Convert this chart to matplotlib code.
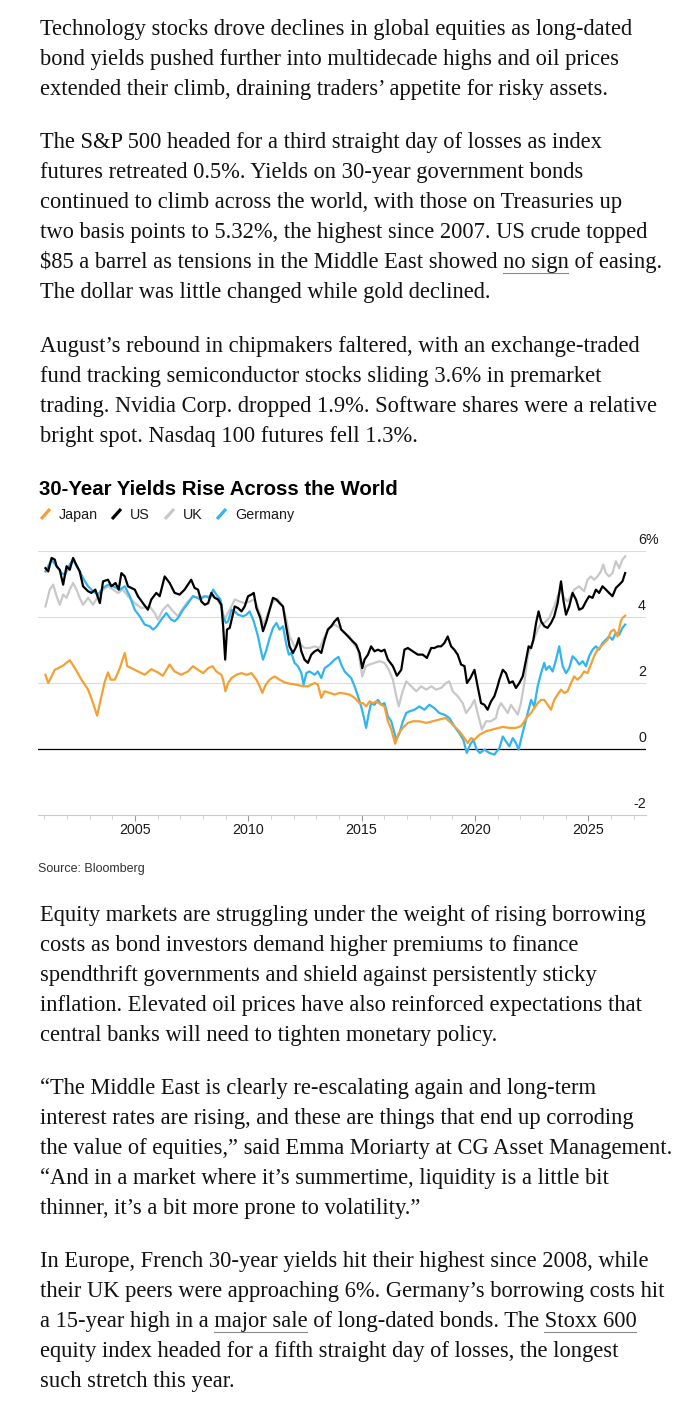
import matplotlib.pyplot as plt
import matplotlib.transforms as mtransforms
from matplotlib.lines import Line2D

# ---- chart data (decimal year, yield %) ----
japan_year = [
    2001.05, 2001.17, 2001.32, 2001.46, 2001.61, 2001.83, 2002.12, 2002.35, 2002.64, 2002.93,
    2003.15, 2003.33, 2003.52, 2003.67, 2003.81, 2003.93, 2004.11, 2004.33, 2004.55, 2004.66,
    2004.84, 2005.13, 2005.43, 2005.72, 2006.01, 2006.23, 2006.53, 2006.75, 2007.04, 2007.34,
    2007.56, 2007.78, 2008.01, 2008.23, 2008.42, 2008.59, 2008.81, 2008.89, 2008.99, 2009.11,
    2009.26, 2009.48, 2009.70, 2009.92, 2010.14, 2010.36, 2010.50, 2010.62, 2010.77, 2010.94,
    2011.16, 2011.38, 2011.60, 2011.82, 2012.12, 2012.41, 2012.63, 2012.93, 2013.07, 2013.22,
    2013.37, 2013.59, 2013.81, 2014.03, 2014.25, 2014.47, 2014.69, 2014.91, 2015.06, 2015.20,
    2015.35, 2015.50, 2015.65, 2015.87, 2016.01, 2016.16, 2016.31, 2016.48, 2016.64, 2016.82,
    2017.04, 2017.26, 2017.55, 2017.85, 2018.14, 2018.43, 2018.70, 2018.87, 2019.09, 2019.31,
    2019.54, 2019.68, 2019.83, 2019.98, 2020.20, 2020.49, 2020.78, 2021.08, 2021.23, 2021.52,
    2021.81, 2022.03, 2022.18, 2022.33, 2022.48, 2022.62, 2022.77, 2022.92, 2023.06, 2023.21,
    2023.36, 2023.50, 2023.65, 2023.80, 2023.94, 2024.09, 2024.24, 2024.38, 2024.53, 2024.68,
    2024.82, 2024.97, 2025.12, 2025.26, 2025.41, 2025.56, 2025.70, 2025.85, 2026.00, 2026.14,
    2026.29, 2026.44, 2026.51, 2026.63,
]
japan_yield = [
    2.25, 2.00, 2.20, 2.40, 2.45, 2.53, 2.69, 2.45, 2.10, 1.80,
    1.39, 1.01, 1.60, 2.05, 2.32, 2.10, 2.10, 2.45, 2.91, 2.51,
    2.45, 2.35, 2.25, 2.42, 2.32, 2.22, 2.56, 2.35, 2.25, 2.35,
    2.51, 2.40, 2.30, 2.45, 2.51, 2.35, 2.25, 2.10, 1.75, 2.00,
    2.15, 2.25, 2.30, 2.25, 2.30, 2.10, 1.90, 1.70, 1.95, 2.10,
    2.20, 2.10, 2.02, 1.98, 1.95, 1.90, 1.90, 2.00, 1.95, 1.55,
    1.75, 1.70, 1.65, 1.70, 1.68, 1.65, 1.55, 1.39, 1.39, 1.29,
    1.44, 1.39, 1.44, 1.34, 1.29, 0.84, 0.59, 0.16, 0.48, 0.64,
    0.79, 0.84, 0.84, 0.79, 0.84, 0.89, 0.94, 0.84, 0.69, 0.54,
    0.33, 0.18, 0.33, 0.28, 0.43, 0.54, 0.59, 0.64, 0.67, 0.64,
    0.64, 0.69, 0.84, 0.99, 1.09, 1.24, 1.39, 1.49, 1.49, 1.34,
    1.19, 1.49, 1.65, 1.80, 1.70, 1.75, 2.00, 2.20, 2.10, 2.20,
    2.35, 2.30, 2.56, 2.81, 3.01, 3.11, 3.21, 3.31, 3.56, 3.62,
    3.41, 3.87, 3.97, 4.04,
]

us_year = [
    2001.05, 2001.17, 2001.32, 2001.46, 2001.54, 2001.68, 2001.83, 2001.98, 2002.12, 2002.27,
    2002.37, 2002.56, 2002.71, 2002.93, 2003.08, 2003.25, 2003.45, 2003.59, 2003.81, 2003.96,
    2004.14, 2004.28, 2004.40, 2004.55, 2004.69, 2004.99, 2005.13, 2005.35, 2005.57, 2005.72,
    2005.94, 2006.09, 2006.31, 2006.53, 2006.75, 2006.97, 2007.19, 2007.48, 2007.63, 2007.78,
    2007.93, 2008.08, 2008.23, 2008.37, 2008.52, 2008.67, 2008.81, 2008.89, 2008.98, 2009.06,
    2009.18, 2009.30, 2009.40, 2009.55, 2009.70, 2009.84, 2009.99, 2010.14, 2010.24, 2010.36,
    2010.53, 2010.65, 2010.80, 2010.94, 2011.09, 2011.24, 2011.38, 2011.53, 2011.68, 2011.82,
    2011.97, 2012.12, 2012.23, 2012.34, 2012.48, 2012.63, 2012.78, 2012.93, 2013.07, 2013.22,
    2013.37, 2013.51, 2013.66, 2013.81, 2013.95, 2014.10, 2014.25, 2014.47,
    2014.54, 2014.76, 2014.91, 2015.03, 2015.13, 2015.28, 2015.42, 2015.57, 2015.72, 2015.87,
    2016.01, 2016.16, 2016.38, 2016.56, 2016.75, 2016.89, 2017.04, 2017.26, 2017.48, 2017.70,
    2017.88, 2018.07, 2018.21, 2018.36, 2018.51, 2018.65, 2018.80, 2018.95, 2019.09, 2019.24,
    2019.39, 2019.54, 2019.65, 2019.80, 2019.98, 2020.12, 2020.27, 2020.42, 2020.56, 2020.71,
    2020.86, 2021.00, 2021.08,
    2021.23, 2021.37, 2021.52, 2021.67, 2021.81, 2021.96, 2022.11, 2022.26, 2022.37, 2022.48,
    2022.58, 2022.70, 2022.81, 2022.92, 2023.06, 2023.21, 2023.36, 2023.50, 2023.65, 2023.80,
    2023.90, 2024.02, 2024.16, 2024.31, 2024.46, 2024.60, 2024.75, 2024.90, 2025.04, 2025.19,
    2025.34, 2025.48, 2025.63, 2025.78, 2025.92, 2026.07, 2026.22, 2026.37, 2026.51, 2026.63,
]
us_yield = [
    5.48, 5.38, 5.79, 5.74, 5.54, 5.43, 4.98, 5.54, 5.43, 5.79,
    5.64, 5.38, 4.93, 4.78, 4.73, 4.83, 4.42, 5.08, 5.13, 4.93,
    5.03, 4.83, 5.33, 5.23, 4.93, 4.83, 4.63, 4.42, 4.22, 4.53,
    4.73, 4.63, 5.23, 5.03, 4.73, 4.68, 4.83, 5.13, 4.88, 4.83,
    4.47, 4.37, 4.42, 4.73, 4.58, 4.53, 4.37, 3.72, 2.71, 3.62,
    3.67, 4.02, 4.32, 4.27, 4.17, 4.32, 4.63, 4.68, 4.73, 4.27,
    3.97, 3.57, 3.87, 4.22, 4.58, 4.53, 4.42, 4.32, 3.67, 3.11,
    2.91, 3.11, 3.36, 2.96, 2.71, 2.61, 2.86, 2.96, 3.01, 2.91,
    3.31, 3.62, 3.72, 3.87, 3.97, 3.62, 3.52, 3.36,
    3.31, 3.16, 2.91, 2.45, 2.71, 2.86, 3.11, 2.96, 3.01, 2.96,
    3.01, 2.71, 2.51, 2.22, 2.40, 3.01, 3.06, 2.96, 2.86, 2.86,
    2.76, 3.06, 3.06, 3.11, 3.11, 3.21, 3.41, 3.11, 3.01, 2.86,
    2.56, 2.51, 2.00, 2.15, 2.40, 1.90, 1.39, 1.34, 1.19, 1.44,
    1.60, 1.90, 2.10,
    2.40, 2.30, 2.00, 2.05, 1.85, 2.00, 2.20, 2.71, 3.11, 3.06,
    3.31, 3.82, 4.17, 3.87, 3.72, 3.67, 3.82, 4.02, 4.42, 5.08,
    4.53, 4.07, 4.32, 4.73, 4.53, 4.22, 4.27, 4.47, 4.63, 4.58,
    4.83, 4.73, 4.93, 4.83, 4.73, 4.63, 4.88, 4.98, 5.08, 5.33,
]

uk_year = [
    2001.05, 2001.24, 2001.39, 2001.54, 2001.68, 2001.83, 2001.98, 2002.12, 2002.27, 2002.42,
    2002.56, 2002.71, 2002.93, 2003.15, 2003.37, 2003.59, 2003.81, 2004.03, 2004.25, 2004.47,
    2004.69, 2004.99, 2005.28, 2005.65, 2005.87, 2006.01, 2006.23, 2006.45, 2006.68, 2006.90,
    2007.12, 2007.34, 2007.56, 2007.78,
    2008.01, 2008.30, 2008.59, 2008.81, 2008.96, 2009.06, 2009.26, 2009.40, 2009.62, 2009.84,
    2010.06, 2010.28, 2010.50, 2010.68, 2010.87, 2011.09, 2011.31, 2011.53, 2011.68, 2011.82,
    2012.04, 2012.26, 2012.48, 2012.70, 2012.93, 2013.15, 2013.37, 2013.59, 2013.81, 2014.03,
    2014.25, 2014.47,
    2014.62, 2014.84, 2015.03, 2015.18, 2015.35, 2015.57, 2015.79, 2016.01, 2016.20, 2016.38,
    2016.53, 2016.64, 2016.79, 2016.97, 2017.19, 2017.41, 2017.63, 2017.85, 2018.07, 2018.29,
    2018.51, 2018.73, 2018.87, 2019.02, 2019.24, 2019.46, 2019.61, 2019.83, 2019.98, 2020.12,
    2020.31, 2020.49, 2020.71, 2020.93,
    2021.01, 2021.15, 2021.30, 2021.45, 2021.59, 2021.74, 2021.89, 2022.03, 2022.18, 2022.33,
    2022.48, 2022.62, 2022.77, 2022.92, 2023.06, 2023.28, 2023.50, 2023.65, 2023.80, 2023.94,
    2024.09, 2024.24, 2024.38, 2024.60, 2024.82, 2024.97, 2025.12, 2025.26, 2025.41, 2025.56,
    2025.66, 2025.78, 2025.92, 2026.07, 2026.22, 2026.37, 2026.51, 2026.63,
]
uk_yield = [
    4.32, 4.83, 4.98, 4.63, 4.37, 4.68, 4.58, 4.83, 5.03, 4.83,
    4.58, 4.37, 4.58, 4.37, 4.63, 4.83, 4.93, 4.83, 4.73, 4.83,
    4.63, 4.42, 4.27, 4.32, 4.12, 3.92, 4.22, 4.37, 4.17, 4.02,
    4.27, 4.47, 4.63, 4.58,
    4.63, 4.63, 4.58, 4.32, 3.92, 4.07, 4.32, 4.53, 4.47, 4.42,
    4.47, 4.53, 4.12, 3.77, 4.12, 4.47, 4.53, 4.32, 3.92, 3.41,
    3.11, 3.21, 3.06, 3.06, 3.11, 3.06, 3.41, 3.67, 3.77, 3.67,
    3.52, 3.41,
    3.21, 3.01, 2.20, 2.51, 2.56, 2.61, 2.66, 2.61, 2.40, 2.10,
    1.60, 1.29, 1.70, 2.05, 1.90, 1.75, 1.90, 1.80, 1.90, 1.80,
    1.85, 2.00, 2.05, 1.75, 1.60, 1.39, 1.09, 1.29, 1.49, 1.09,
    0.59, 0.84, 0.84, 0.94,
    1.19, 1.39, 1.24, 1.09, 1.34, 1.19, 1.04, 1.39, 2.00, 2.81,
    3.11, 3.36, 3.62, 3.82, 3.82, 3.97, 4.32, 4.63, 4.83, 4.58,
    4.47, 4.63, 4.83, 4.93, 4.78, 5.13, 5.23, 5.13, 5.23, 5.38,
    5.59, 5.33, 5.23, 5.33, 5.69, 5.48, 5.74, 5.84,
]

germany_year = [
    2001.05, 2001.32, 2001.54, 2001.76, 2001.91, 2002.12, 2002.27, 2002.42, 2002.56, 2002.79,
    2002.93, 2003.15, 2003.37, 2003.59, 2003.81, 2004.03, 2004.33, 2004.55, 2004.77, 2004.99,
    2005.21, 2005.43, 2005.65, 2005.79, 2005.94, 2006.16, 2006.38, 2006.60, 2006.75, 2006.90,
    2007.12, 2007.34, 2007.56, 2007.78,
    2007.86, 2008.08, 2008.30, 2008.45, 2008.59, 2008.77, 2008.89, 2009.01, 2009.11, 2009.26,
    2009.40, 2009.55, 2009.77, 2009.92, 2010.06, 2010.24, 2010.43, 2010.58, 2010.65, 2010.80,
    2010.94, 2011.09, 2011.24, 2011.38, 2011.53, 2011.68, 2011.79, 2011.90, 2012.04, 2012.19,
    2012.34, 2012.44, 2012.56, 2012.70, 2012.93, 2013.07, 2013.22, 2013.37, 2013.59, 2013.81,
    2013.98, 2014.10, 2014.25, 2014.47,
    2014.54, 2014.69, 2014.84, 2014.98, 2015.09, 2015.20, 2015.32, 2015.42, 2015.57, 2015.72,
    2015.87, 2016.01, 2016.16, 2016.31, 2016.41, 2016.53, 2016.67, 2016.82, 2016.97, 2017.11,
    2017.33, 2017.55, 2017.77, 2017.99, 2018.21, 2018.43, 2018.65, 2018.87, 2019.09, 2019.31,
    2019.49, 2019.64, 2019.79, 2019.93, 2020.08, 2020.22, 2020.42, 2020.64, 2020.86, 2021.08,
    2021.23, 2021.37, 2021.52, 2021.67, 2021.81, 2021.93, 2022.03, 2022.18, 2022.33, 2022.48,
    2022.62, 2022.77, 2022.92, 2023.06, 2023.14, 2023.28, 2023.43, 2023.58, 2023.72, 2023.87,
    2024.02, 2024.16, 2024.31, 2024.46, 2024.60, 2024.75, 2024.90, 2025.04, 2025.19, 2025.34,
    2025.48, 2025.63, 2025.78, 2025.92, 2026.07, 2026.22, 2026.37, 2026.51, 2026.63,
]
germany_yield = [
    5.38, 5.74, 5.54, 5.33, 5.28, 5.59, 5.74, 5.54, 5.38, 5.08,
    4.93, 4.78, 4.68, 4.88, 4.98, 4.93, 4.83, 4.93, 4.63, 4.22,
    4.02, 3.77, 3.72, 3.62, 3.70, 3.92, 4.12, 3.92, 3.87, 3.97,
    4.22, 4.42, 4.63, 4.58,
    4.53, 4.63, 4.58, 4.83, 4.68, 4.53, 4.02, 3.82, 3.87, 4.22,
    4.17, 4.07, 4.02, 4.07, 4.17, 3.87, 3.41, 2.91, 2.71, 3.01,
    3.36, 3.67, 3.82, 3.62, 3.72, 3.16, 2.86, 2.91, 2.61, 2.51,
    2.30, 1.95, 2.30, 2.35, 2.25, 2.35, 2.15, 2.45, 2.56, 2.71,
    2.79, 2.56, 2.35, 2.20,
    2.15, 1.90, 1.60, 1.29, 0.99, 0.64, 1.09, 1.39, 1.34, 1.49,
    1.34, 1.39, 0.99, 0.84, 0.59, 0.28, 0.48, 0.84, 1.09, 1.14,
    1.19, 1.29, 1.19, 1.34, 1.24, 1.09, 1.04, 0.94, 0.69, 0.48,
    0.28, -0.12, 0.13, 0.28, -0.02, -0.12, -0.02, -0.12, -0.17, 0.03,
    0.38, 0.23, 0.08, 0.33, 0.18, -0.02, 0.28, 0.69, 1.09, 1.49,
    1.29, 1.90, 2.30, 2.61, 2.40, 2.51, 2.35, 2.71, 3.11, 2.51,
    2.30, 2.45, 2.81, 2.71, 2.56, 2.66, 2.51, 2.81, 3.01, 3.11,
    3.01, 3.21, 3.31, 3.41, 3.31, 3.52, 3.46, 3.67, 3.77,
]

year_ticks = [2005, 2010, 2015, 2020, 2025]
yield_ticks = [-2, 0, 2, 4, 6]

series_names = ["Japan", "US", "UK", "Germany"]
series_colors = ["#f5a033", "#000000", "#c8c8c8", "#32b4ee"]

# ---- article text ----
paragraphs = [
    ["Technology stocks drove declines in global equities as long-dated",
     "bond yields pushed further into multidecade highs and oil prices",
     "extended their climb, draining traders\u2019 appetite for risky assets."],
    ["The S&P 500 headed for a third straight day of losses as index",
     "futures retreated 0.5%. Yields on 30-year government bonds",
     "continued to climb across the world, with those on Treasuries up",
     "two basis points to 5.32%, the highest since 2007. US crude topped",
     "$85 a barrel as tensions in the Middle East showed no sign of easing.",
     "The dollar was little changed while gold declined."],
    ["August\u2019s rebound in chipmakers faltered, with an exchange-traded",
     "fund tracking semiconductor stocks sliding 3.6% in premarket",
     "trading. Nvidia Corp. dropped 1.9%. Software shares were a relative",
     "bright spot. Nasdaq 100 futures fell 1.3%."],
    ["Equity markets are struggling under the weight of rising borrowing",
     "costs as bond investors demand higher premiums to finance",
     "spendthrift governments and shield against persistently sticky",
     "inflation. Elevated oil prices have also reinforced expectations that",
     "central banks will need to tighten monetary policy."],
    ["\u201cThe Middle East is clearly re-escalating again and long-term",
     "interest rates are rising, and these are things that end up corroding",
     "the value of equities,\u201d said Emma Moriarty at CG Asset Management.",
     "\u201cAnd in a market where it\u2019s summertime, liquidity is a little bit",
     "thinner, it\u2019s a bit more prone to volatility.\u201d"],
    ["In Europe, French 30-year yields hit their highest since 2008, while",
     "their UK peers were approaching 6%. Germany\u2019s borrowing costs hit",
     "a 15-year high in a major sale of long-dated bonds. The Stoxx 600",
     "equity index headed for a fifth straight day of losses, the longest",
     "such stretch this year."],
]
links = [(1, 4, "no sign"), (5, 2, "major sale"), (5, 2, "Stoxx 600")]

# ---- layout (pixels, from top-left) ----
W, H = 684, 1414
fig = plt.figure(figsize=(W / 100, H / 100), dpi=100)
renderer = fig.canvas.get_renderer()


def fx(x):
    return x / W


def fy(y):
    return 1 - y / H


def text_width(s, size, **kw):
    t = fig.text(0, 0, s, fontsize=size, parse_math=False, **kw)
    w = t.get_window_extent(renderer).width
    t.remove()
    return w


def fit(s, target, **kw):
    return 20 * target / text_width(s, 20, **kw)


serif = dict(family="Liberation Serif")
sans = dict(family="Liberation Sans")

body_size = fit(paragraphs[5][0], 609, **serif)
para_base = [35, 148, 352, 921, 1094, 1267]
step = 30
left = 39.5

for p, lines in enumerate(paragraphs):
    for i, line in enumerate(lines):
        fig.text(fx(left), fy(para_base[p] + i * step), line, fontsize=body_size,
                 va="baseline", ha="left", color="#121212", parse_math=False, **serif)

for p, i, word in links:
    line = paragraphs[p][i]
    prefix = line[:line.index(word) + len(word)]
    x_end = left + text_width(prefix, body_size, **serif)
    x_start = x_end - text_width(word, body_size, **serif)
    y = para_base[p] + i * step + 4.5
    fig.add_artist(Line2D([fx(x_start), fx(x_end)], [fy(y), fy(y)],
                          transform=fig.transFigure, color="#8a8a8a", lw=0.8))

# chart title and legend
title_size = fit("30-Year Yields Rise Across the World", 358, weight="bold", **sans)
fig.text(fx(39), fy(495), "30-Year Yields Rise Across the World", fontsize=title_size,
         weight="bold", va="baseline", color="#000000", **sans)

legend_size = fit("Germany", 58.7, **sans)
slash_x = [41, 112, 165, 217]
label_x = [58.3, 130, 183.3, 235.7]
for name, color, sx, lx in zip(series_names, series_colors, slash_x, label_x):
    fig.add_artist(Line2D([fx(sx), fx(sx + 9)], [fy(519), fy(509)],
                          transform=fig.transFigure, color=color, lw=2.3,
                          solid_capstyle="butt"))
    fig.text(fx(lx), fy(519), name, fontsize=legend_size, va="baseline",
             color="#1a1a1a", **sans)

# plot area
ax_l, ax_r, ax_t, ax_b = 38, 646, 551, 815
ax = fig.add_axes([fx(ax_l), fy(ax_b), (ax_r - ax_l) / W, (ax_b - ax_t) / H])
ax.set_xlim(2000.72, 2027.55)
ax.set_ylim(-2, 6)
ax.patch.set_alpha(0)

for v in yield_ticks[2:]:
    ax.axhline(v, color="#dcdcdc", lw=0.8, zorder=1)
ax.axhline(0, color="#000000", lw=0.9, zorder=1)

ax.plot(uk_year, uk_yield, color=series_colors[2], lw=1.6, zorder=2)
ax.plot(germany_year, germany_yield, color=series_colors[3], lw=1.6, zorder=3)
ax.plot(japan_year, japan_yield, color=series_colors[0], lw=1.6, zorder=4)
ax.plot(us_year, us_yield, color=series_colors[1], lw=1.6, zorder=5)

for s in ["top", "left", "right"]:
    ax.spines[s].set_visible(False)
ax.spines["bottom"].set_color("#cccccc")
ax.spines["bottom"].set_linewidth(0.8)
ax.set_yticks([])

tick_size = fit("2005", 31.7, **sans)
ax.set_xticks(year_ticks)
ax.set_xticklabels([str(y) for y in year_ticks], fontsize=tick_size,
                   family="Liberation Sans", color="#1a1a1a")
ax.set_xticks(range(2001, 2028), minor=True)
ax.tick_params(axis="x", which="major", length=4.3, width=0.8, color="#999999", pad=1.6)
ax.tick_params(axis="x", which="minor", length=3.2, width=0.7, color="#d0d0d0")

ylab = mtransforms.offset_copy(
    mtransforms.blended_transform_factory(ax.transAxes, ax.transData),
    fig=fig, x=0, y=6.5, units="dots")
for v in yield_ticks:
    ax.text(1.0, v, str(v), transform=ylab, ha="right", va="baseline",
            fontsize=tick_size, color="#1a1a1a", clip_on=False, **sans)
ax.text(1.0, yield_ticks[-1], "%", transform=ylab, ha="left", va="baseline",
        fontsize=tick_size, color="#1a1a1a", clip_on=False, **sans)

source_size = fit("Source: Bloomberg", 106.7, **sans)
fig.text(fx(38.5), fy(872), "Source: Bloomberg", fontsize=source_size,
         va="baseline", color="#333333", **sans)

fig.savefig("out.png", dpi=100)
